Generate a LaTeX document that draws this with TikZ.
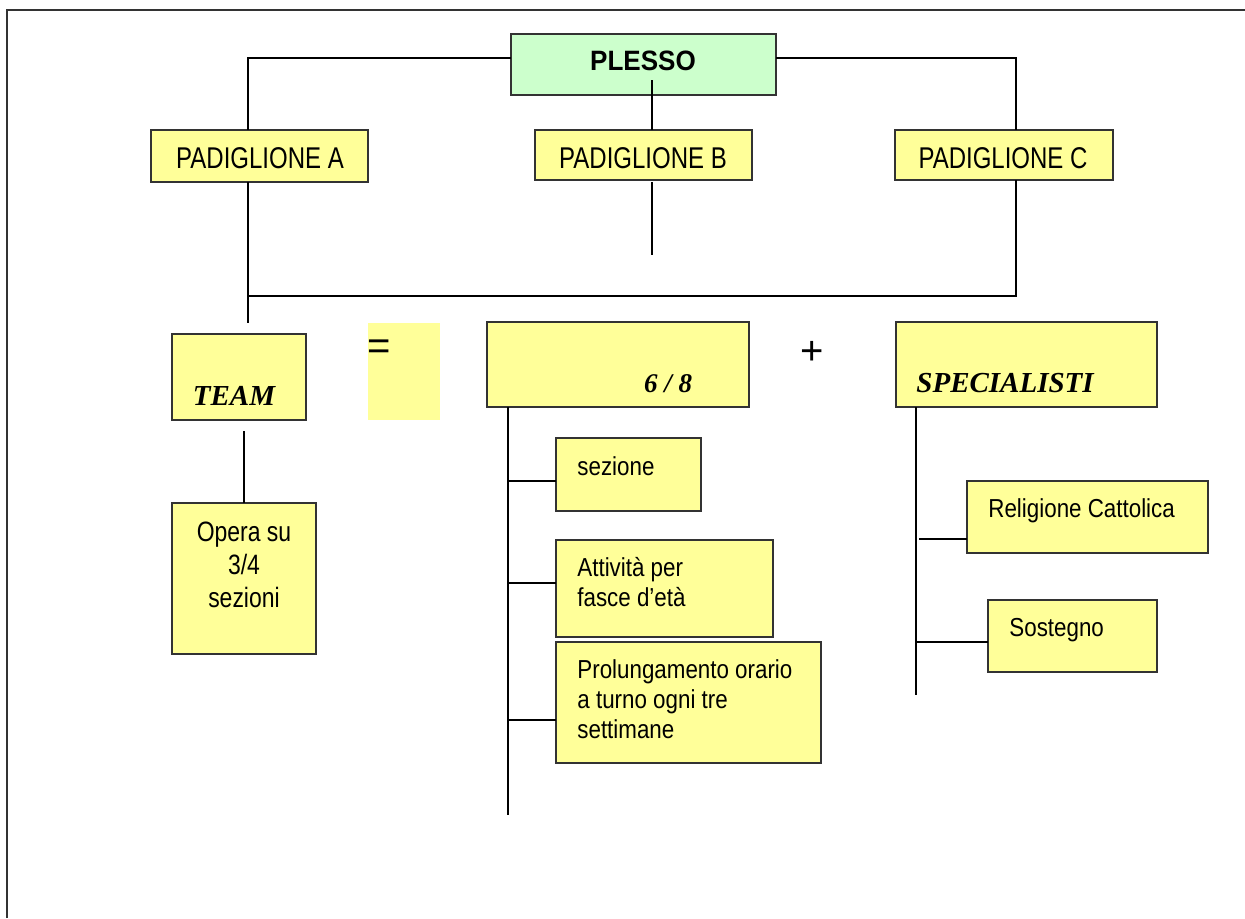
\documentclass[tikz,border=0pt]{standalone}
\usepackage{fontspec}
\setmainfont{Liberation Sans}
\newfontfamily\arialN[FakeStretch=0.8]{Liberation Sans}
\newfontfamily\arialM[FakeStretch=0.82]{Liberation Sans}
\newfontfamily\arialS[FakeStretch=0.86]{Liberation Sans}
\newfontfamily\arialB[FakeStretch=0.93]{Liberation Sans}
\newfontfamily\timesf{Liberation Serif}
\usetikzlibrary{calc}
\definecolor{yel}{RGB}{255,255,153}
\definecolor{grn}{RGB}{204,255,204}
\tikzset{
  box/.style={draw=black!80, line width=0.75pt, fill=yel, inner sep=0pt, outer sep=0pt, anchor=north west},
  gbox/.style={box, fill=grn},
  conn/.style={draw=black, line width=1pt},
  big/.style={font=\arialN\fontsize{15pt}{18pt}\selectfont, inner sep=0pt, anchor=base},
  mid/.style={font=\arialM\fontsize{14pt}{16.5pt}\selectfont, inner sep=0pt, anchor=base, align=center},
  small/.style={font=\arialS\fontsize{13pt}{15pt}\selectfont, inner sep=0pt, anchor=base west, align=left},
  serif/.style={font=\timesf\bfseries\itshape\fontsize{14.5pt}{17pt}\selectfont, inner sep=0pt},
  sign/.style={font=\fontsize{20pt}{24pt}\selectfont, inner sep=0pt, anchor=center}
}
\begin{document}
\begin{tikzpicture}[x=0.5pt,y=-0.5pt]
\useasboundingbox (0,0) rectangle (1245,918);
% frame
\draw[black!80, line width=1pt] (7,918) -- (7,10) -- (1245,10);

% boxes
\node[gbox, minimum width=132.5pt, minimum height=30.5pt] (plesso) at (511,34) {};
\node[box, minimum width=108.5pt, minimum height=26pt] (padA) at (151,130) {};
\node[box, minimum width=108.5pt, minimum height=25pt] (padB) at (535,130) {};
\node[box, minimum width=109pt, minimum height=25pt] (padC) at (895,130) {};
\node[box, minimum width=67pt, minimum height=43pt] (team) at (172,334) {};
\node[box, draw=none, minimum width=36pt, minimum height=48.5pt] (eqbox) at (368,323) {};
\node[box, minimum width=72pt, minimum height=75.5pt] (opera) at (172,503) {};
\node[box, minimum width=131pt, minimum height=42.5pt] (six) at (487,322) {};
\node[box, minimum width=130.5pt, minimum height=42.5pt] (spec) at (896,322) {};
\node[box, minimum width=72.5pt, minimum height=36.5pt] (sez) at (556,438) {};
\node[box, minimum width=108.5pt, minimum height=48.5pt] (att) at (556,540) {};
\node[box, minimum width=132.5pt, minimum height=60.5pt] (prol) at (556,642) {};
\node[box, minimum width=120.5pt, minimum height=36pt] (rel) at (967,481) {};
\node[box, minimum width=84.5pt, minimum height=36pt] (sos) at (988,600) {};

% texts
\node[inner sep=0pt, anchor=base, font=\arialB\bfseries\fontsize{14pt}{17pt}\selectfont] (tplesso) at (643,70) {PLESSO};
\node[big] (tpadA) at (260,168) {PADIGLIONE A};
\node[big] (tpadB) at (643,168) {PADIGLIONE B};
\node[big] (tpadC) at (1003,168) {PADIGLIONE C};
\node[serif, anchor=base] (tteam) at (234,405) {TEAM};
\node[sign] (teq) at (379,350) {=};
\node[mid] (topera1) at (244,541) {Opera su};
\node[mid] (topera2) at (244,574) {3/4};
\node[mid] (topera3) at (244,607) {sezioni};
\node[serif, anchor=base, font=\timesf\bfseries\itshape\fontsize{13.5pt}{16pt}\selectfont] (tsix) at (668,392) {6 / 8};
\node[sign] (tplus) at (812,353) {+};
\node[serif, anchor=base west] (tspec) at (916,392) {SPECIALISTI};
\node[small] (tsez) at (577,475) {sezione};
\node[small] (tatt1) at (577,576) {Attività per};
\node[small] (tatt2) at (577,606) {fasce d’età};
\node[small] (tprol1) at (577,678) {Prolungamento orario};
\node[small] (tprol2) at (577,708) {a turno ogni tre};
\node[small] (tprol3) at (577,738) {settimane};
\node[small] (trel) at (988,517) {Religione Cattolica};
\node[small] (tsos) at (1009,636) {Sostegno};

% connectors
\draw[conn] ($(plesso.west)+(0,-6.5)$) -| ($(padA.north)+(-11.5,0)$);
\draw[conn] ($(plesso.east)+(0,-6.5)$) -| ($(padC.north)+(12,0)$);
\draw[conn] ($(plesso.south)+(8.5,-15)$) -- ($(padB.north)+(8.5,0)$);
\draw[conn] ($(padB.south)+(8.5,2)$) -- ++(0,73) coordinate (padBend);
\draw[conn] ($(padA.south)+(-11.5,0)$) -- ($(team.north)+(9,-11)$);
\draw[conn] ($(padC.south)+(12,0)$) |- ($(padA.south)+(-11.5,114)$);
\draw[conn] ($(team.south)+(5,11)$) -- (opera.north);
% 6/8 stem
\draw[conn] ($(six.south west)+(21,0)$) -- ++(0,408) coordinate (sixend);
\draw[conn] ($(sez.west)+(0,6.5)$) -- ++(-48,0);
\draw[conn] ($(att.west)+(0,-5.5)$) -- ++(-48,0);
\draw[conn] ($(prol.west)+(0,17.5)$) -- ++(-48,0);
% specialisti stem
\draw[conn] ($(spec.south west)+(20,0)$) -- ++(0,288) coordinate (specend);
\draw[conn] ($(rel.west)+(0,22)$) -- ++(-48,0);
\draw[conn] ($(sos.west)+(0,6)$) -- ++(-72,0);
\end{tikzpicture}
\end{document}
